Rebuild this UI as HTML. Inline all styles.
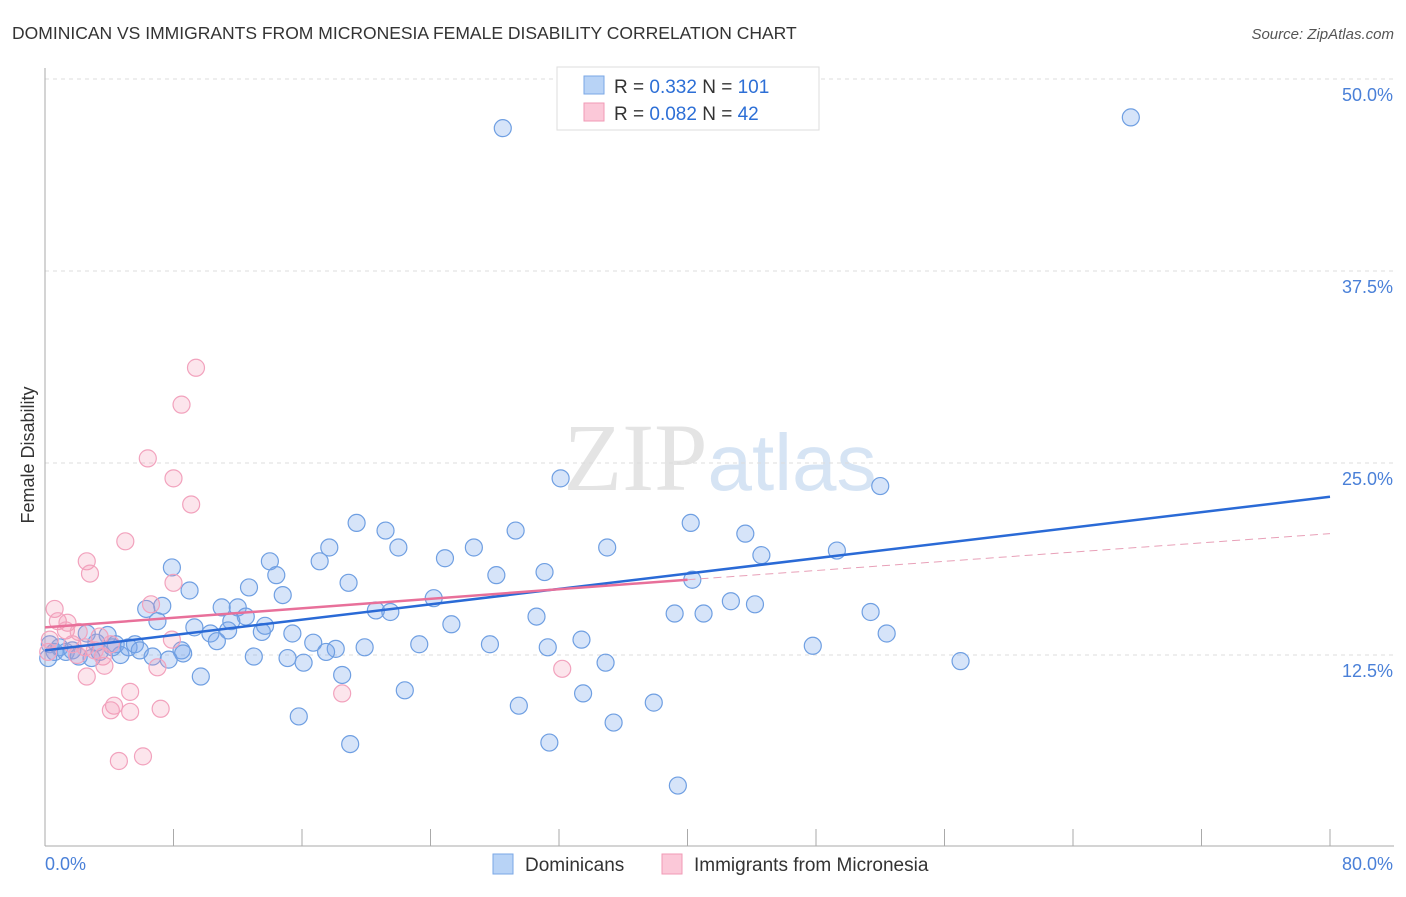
<!DOCTYPE html>
<html><head><meta charset="utf-8"><style>
body{margin:0;background:#fff;font-family:"Liberation Sans",sans-serif}
</style></head><body>
<svg id="chart" width="1406" height="892" xmlns="http://www.w3.org/2000/svg" font-family="Liberation Sans, sans-serif">
<text x="12" y="39" font-size="17.5" fill="#333">DOMINICAN VS IMMIGRANTS FROM MICRONESIA FEMALE DISABILITY CORRELATION CHART</text>
<text x="1394" y="39" font-size="15" fill="#555" text-anchor="end" font-style="italic">Source: ZipAtlas.com</text>
<text x="720" y="490" font-size="96" fill="#e4e4e4" text-anchor="middle" font-family="Liberation Serif, serif">ZIP<tspan fill="#d6e4f4" font-family="Liberation Sans, sans-serif" font-size="80">atlas</tspan></text>
<text transform="translate(34,455) rotate(-90)" font-size="18" fill="#333" text-anchor="middle">Female Disability</text>
<g id="grid"></g><g id="axes"></g><g id="pts"></g><g id="lines"></g>
<g>
<rect x="557" y="67" width="262" height="63" fill="#fff" stroke="#ddd"/>
<rect x="584" y="76" width="20" height="18" fill="#b8d3f6" stroke="#7aa7e6"/>
<rect x="584" y="103" width="20" height="18" fill="#fbc8d8" stroke="#f09ab6"/>
<text x="614" y="93" font-size="19" fill="#333">R = <tspan fill="#2d6fd6">0.332</tspan>   N = <tspan fill="#2d6fd6">101</tspan></text>
<text x="614" y="120" font-size="19" fill="#333">R = <tspan fill="#2d6fd6">0.082</tspan>   N =  <tspan fill="#2d6fd6">42</tspan></text>
</g>
<g>
<rect x="493" y="854" width="20" height="20" fill="#b8d3f6" stroke="#7aa7e6"/>
<text x="525" y="871" font-size="19" fill="#333">Dominicans</text>
<rect x="662" y="854" width="20" height="20" fill="#fbc8d8" stroke="#f09ab6"/>
<text x="694" y="871" font-size="19" fill="#333">Immigrants from Micronesia</text>
</g>
</svg>
<script>
const yTicks=[12.5,25,37.5,50];
const yTickLabels=["12.5%","25.0%","37.5%","50.0%"];
const xTicks=[0,8,16,24,32,40,48,56,64,72,80];
const domX=[47.5,67.6,32.1,52,19.4,21.2,29.3,40.2,43.6,14,17.7,22,26.7,35,44.6,49.3,17.1,24.9,14.4,28.1,31.1,40.3,7.9,9,12.7,18.9,14.8,24.2,6.3,7.3,11,12,12.5,20.6,21.5,30.6,39.2,41,42.7,44.2,51.4,7,11.6,9.3,10.3,11.4,13.5,13.7,15.4,25.3,52.4,33.4,10.7,16.7,27.7,31.3,47.8,23.3,19.9,18.1,17.5,8.5,8.6,6.7,7.7,13,15.1,16.1,34.9,57,18.5,9.7,22.4,33.5,29.5,37.9,15.8,35.4,19,31.4,39.4,0.3,0.6,0.9,1.3,1.7,2.1,2.6,2.9,3.4,3.9,4.4,4.7,5.2,5.6,5.9,0.2,3.2,4.2];
domX[0]=28.5;
const domY=[46.8,47.5,24,23.5,21.1,20.6,20.6,21.1,20.4,18.6,19.5,19.5,19.5,19.5,19,19.3,18.6,18.8,17.7,17.7,17.9,17.4,18.2,16.7,16.9,17.2,16.4,16.2,15.5,15.7,15.6,15.6,15,15.4,15.3,15,15.2,15.2,16,15.8,15.3,14.7,14.7,14.3,13.9,14.1,14,14.4,13.9,14.5,13.9,13.5,13.4,13.3,13.2,13,13.1,13.2,13,12.9,12.7,12.8,12.6,12.4,12.2,12.4,12.3,12,12,12.1,11.2,11.1,10.2,10,9.2,9.4,8.5,8.1,6.7,6.8,4,13.2,12.7,13,12.7,12.8,12.4,13.9,12.3,12.7,13.8,13.2,12.5,13,13.2,12.8,12.3,13.3,13];
const micX=[9.4,8.5,6.4,8,9.1,5,2.6,2.8,8,6.6,0.6,0.8,1.4,1.3,2.1,7.9,3.4,4.1,2.5,2,3.6,3.7,7,32.2,2.6,5.3,18.5,4.3,4.1,5.3,7.2,6.1,4.6,0.3,0.2,3.1,1.7];
const micY=[31.2,28.8,25.3,24,22.3,19.9,18.6,17.8,17.2,15.8,15.5,14.7,14.6,14.1,14,13.5,13.7,13.2,13,12.5,12.4,11.8,11.7,11.6,11.1,10.1,10,9.2,8.9,8.8,9,5.9,5.6,13.5,12.7,12.8,13.2];
const trendDom=[[0,12.8],[80,22.8]];
const trendMic=[[0,14.3],[40,17.4],[80,20.4]];
const X=v=>45+v/80*1285, Y=v=>847-v/12.5*192;
const NS="http://www.w3.org/2000/svg";
function mk(p,t,a){const e=document.createElementNS(NS,t);for(const k in a)e.setAttribute(k,a[k]);p.appendChild(e);return e;}
const grid=document.getElementById('grid'),axes=document.getElementById('axes');
yTicks.forEach((t,i)=>{const l=mk(grid,'line',{x1:45,x2:1394,y1:Y(t),y2:Y(t),stroke:'#ddd','stroke-dasharray':'4,4'});

const tx=mk(axes,'text',{x:1393,y:Y(t)+22,'font-size':18,fill:'#4a80d8','text-anchor':'end'});tx.textContent=yTickLabels[i];
});
const ax=mk(axes,'line',{x1:45,x2:1394,y1:846,y2:846,stroke:'#aaa'});
const ay=mk(axes,'line',{x1:45,x2:45,y1:68,y2:846,stroke:'#aaa'});
xTicks.forEach(t=>{const l=mk(axes,'line',{x1:X(t),x2:X(t),y1:829,y2:846,stroke:'#aaa'});});
let t0=mk(axes,'text',{x:45,y:870,'font-size':18,fill:'#4a80d8'});t0.textContent='0.0%';
let t1=mk(axes,'text',{x:1393,y:870,'font-size':18,fill:'#4a80d8','text-anchor':'end'});t1.textContent='80.0%';
const pts=document.getElementById('pts');
domX.forEach((x,i)=>{const c=mk(pts,'circle',{cx:X(x),cy:Y(domY[i]),r:8.5,fill:'rgba(120,165,235,0.3)',stroke:'#6f9fe2','stroke-width':1.2});
});
micX.forEach((x,i)=>{const c=mk(pts,'circle',{cx:X(x),cy:Y(micY[i]),r:8.5,fill:'rgba(245,150,180,0.25)',stroke:'#f2a2bd','stroke-width':1.2});
});
const lines=document.getElementById('lines');
let bl=mk(lines,'line',{x1:X(trendDom[0][0]),y1:Y(trendDom[0][1]),x2:X(trendDom[1][0]),y2:Y(trendDom[1][1]),stroke:'#2a6ad6','stroke-width':2.5});

let pl=mk(lines,'line',{x1:X(trendMic[0][0]),y1:Y(trendMic[0][1]),x2:X(trendMic[1][0]),y2:Y(trendMic[1][1]),stroke:'#e8709a','stroke-width':2.5});

let pd=mk(lines,'line',{x1:X(trendMic[1][0]),y1:Y(trendMic[1][1]),x2:X(trendMic[2][0]),y2:Y(trendMic[2][1]),stroke:'#e8a0b8','stroke-width':1,'stroke-dasharray':'8,5'});

</script>
</body></html>
